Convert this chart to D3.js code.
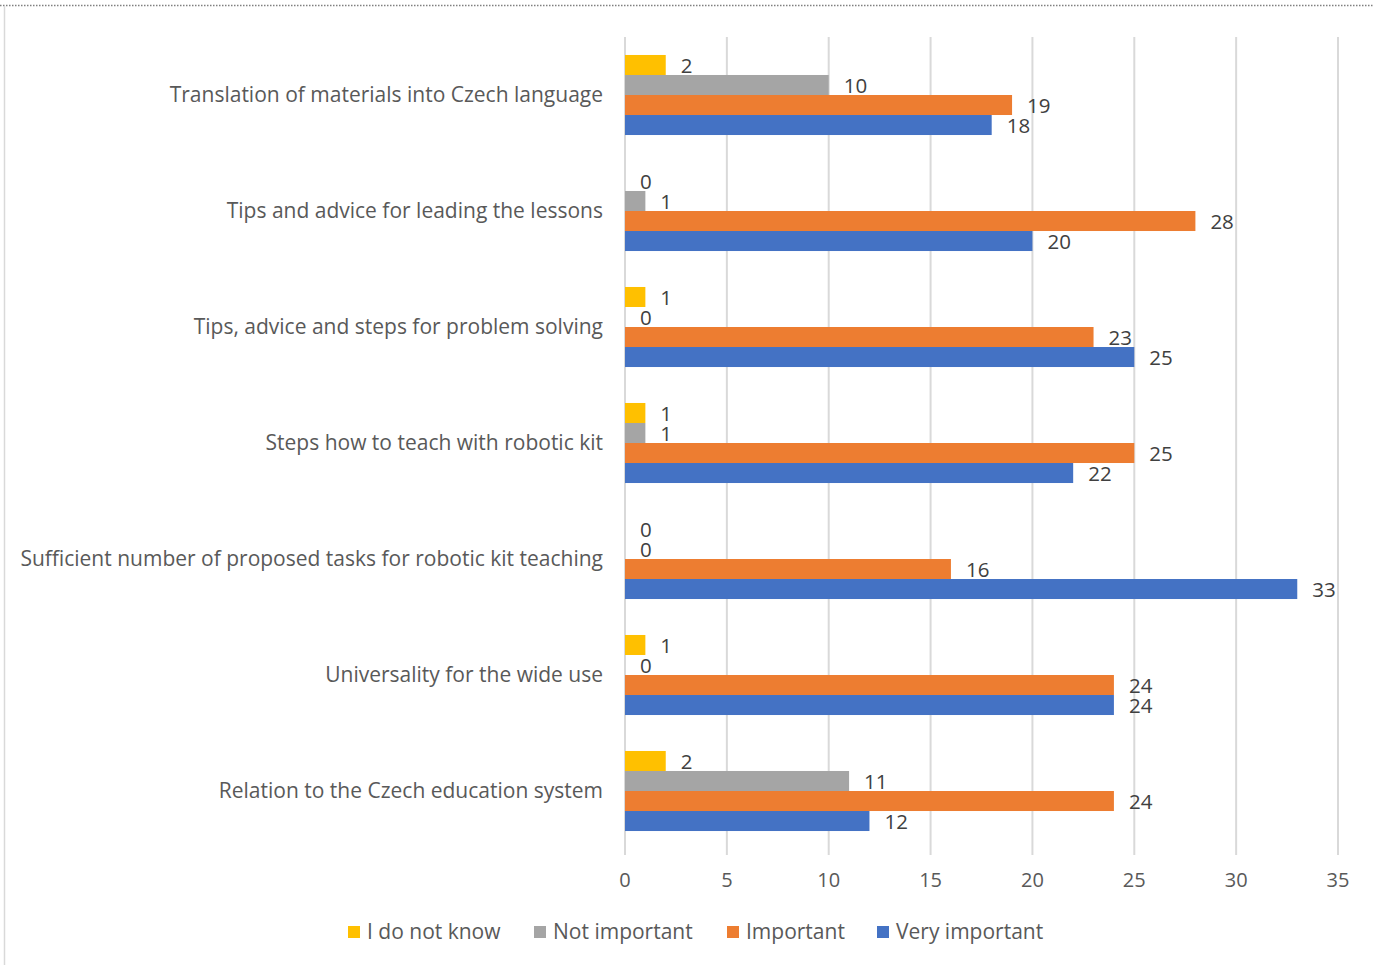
<!DOCTYPE html>
<html>
<head>
<meta charset="utf-8">
<script src="https://cdn.jsdelivr.net/npm/d3@7"></script>
<style>
  body { margin: 0; background: #fff; }
  svg text { font-family: "Open Sans", "Liberation Sans", Arial, sans-serif; fill: #595959; }
</style>
</head>
<body>
<div id="chart"></div>
<script>
  // categories, top to bottom
  var categories = [
    'Translation of materials into Czech language',
    'Tips and advice for leading the lessons',
    'Tips, advice and steps for problem solving',
    'Steps how to teach with robotic kit',
    'Sufficient number of proposed tasks for robotic kit teaching',
    'Universality for the wide use',
    'Relation to the Czech education system'
  ];
  var seriesNames = ['I do not know', 'Not important', 'Important', 'Very important'];
  var seriesColors = ['#FFC000', '#A5A5A5', '#ED7D31', '#4472C4'];

  var doNotKnow     = [2, 0, 1, 1, 0, 1, 2];
  var notImportant  = [10, 1, 0, 1, 0, 0, 11];
  var important     = [19, 28, 23, 25, 16, 24, 24];
  var veryImportant = [18, 20, 25, 22, 33, 24, 12];
  var xTicks = [0, 5, 10, 15, 20, 25, 30, 35];

  var series = [doNotKnow, notImportant, important, veryImportant];

  var width = 1373, height = 965;
  var margin = { left: 625, right: 1373 - 1338, top: 37, bottom: 965 - 849 };

  var svg = d3.select('#chart').append('svg')
      .attr('width', width)
      .attr('height', height);

  // frame
  svg.append('line')
      .attr('x1', 0).attr('x2', width).attr('y1', 5.5).attr('y2', 5.5)
      .attr('stroke', '#808080').attr('stroke-width', 1.5).attr('stroke-dasharray', '1.5,1.5');
  svg.append('line')
      .attr('x1', 4.5).attr('x2', 4.5).attr('y1', 6).attr('y2', height)
      .attr('stroke', '#d9d9d9').attr('stroke-width', 1.5);

  var x = d3.scaleLinear().domain([0, 35]).range([margin.left, width - margin.right]);
  var y = d3.scaleBand().domain(categories).range([margin.top, height - margin.bottom]).paddingInner(0.31).paddingOuter(0.155);
  var ySub = d3.scaleBand().domain(d3.range(seriesNames.length)).range([0, y.bandwidth()]);

  // gridlines
  svg.append('g').selectAll('line').data(xTicks).enter().append('line')
      .attr('x1', function(d) { return x(d); })
      .attr('x2', function(d) { return x(d); })
      .attr('y1', margin.top)
      .attr('y2', height - margin.bottom + 6)
      .attr('stroke', '#d9d9d9')
      .attr('stroke-width', 2);

  // x tick labels
  svg.append('g').selectAll('text').data(xTicks).enter().append('text')
      .attr('x', function(d) { return x(d); })
      .attr('y', 880)
      .attr('dy', '0.35em')
      .attr('text-anchor', 'middle')
      .style('font-size', '20px')
      .text(function(d) { return d; });

  // category labels
  svg.append('g').selectAll('text').data(categories).enter().append('text')
      .attr('x', 603)
      .attr('y', function(d) { return y(d) + y.bandwidth() / 2; })
      .attr('dy', '0.35em')
      .attr('text-anchor', 'end')
      .style('font-size', '21px')
      .text(function(d) { return d; });

  // bars
  var groups = svg.append('g').selectAll('g').data(categories).enter().append('g')
      .attr('transform', function(d) { return 'translate(0,' + y(d) + ')'; });

  groups.each(function(cat, ci) {
    var g = d3.select(this);
    seriesNames.forEach(function(name, si) {
      var v = series[si][ci];
      g.append('rect')
          .attr('x', x(0))
          .attr('y', ySub(si))
          .attr('width', x(v) - x(0))
          .attr('height', ySub.bandwidth())
          .attr('fill', seriesColors[si]);
      g.append('text')
          .attr('x', x(v) + 15)
          .attr('y', ySub(si) + ySub.bandwidth() / 2)
          .attr('dy', '0.4em')
          .style('font-size', '20.5px')
          .style('fill', '#404040')
          .text(v);
    });
  });

  // legend
  var legendX = [348, 534, 727, 877];
  var legend = svg.append('g').selectAll('g').data(seriesNames).enter().append('g')
      .attr('transform', function(d, i) { return 'translate(' + legendX[i] + ',932)'; });
  legend.append('rect')
      .attr('x', 0).attr('y', -6).attr('width', 12).attr('height', 12)
      .attr('fill', function(d, i) { return seriesColors[i]; });
  legend.append('text')
      .attr('x', 19)
      .attr('dy', '0.35em')
      .style('font-size', '21px')
      .text(function(d) { return d; });
</script>
</body>
</html>
